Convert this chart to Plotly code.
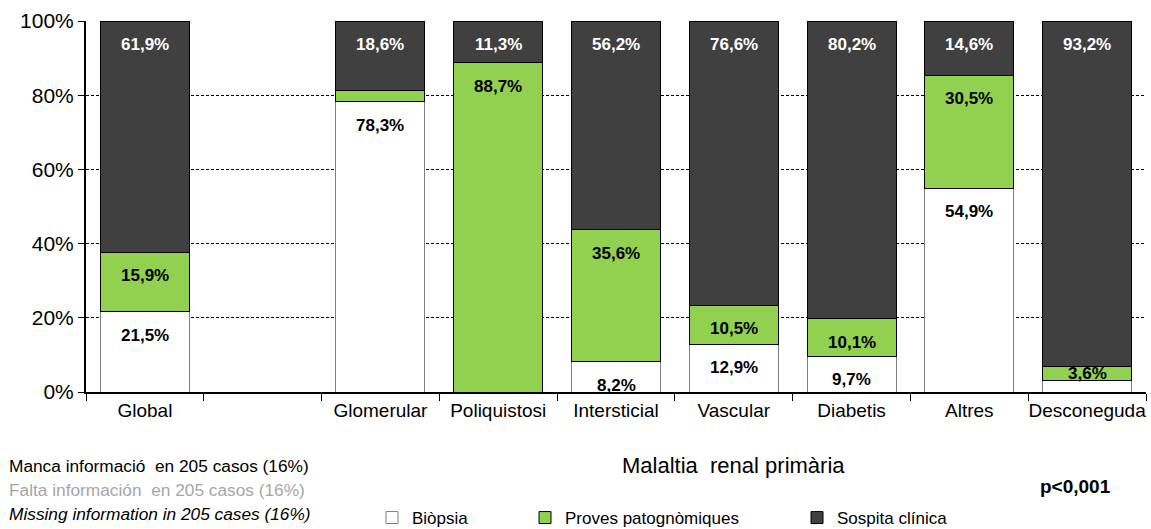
import plotly.graph_objects as go

categories = ["Global", " ", "Glomerular", "Poliquistosi", "Intersticial",
              "Vascular", "Diabetis", "Altres", "Desconeguda"]
biopsia = [21.5, None, 78.3, 0.0, 8.2, 12.9, 9.7, 54.9, 3.2]
proves = [15.9, None, 3.1, 88.7, 35.6, 10.5, 10.1, 30.5, 3.6]
sospita = [61.9, None, 18.6, 11.3, 56.2, 76.6, 80.2, 14.6, 93.2]
y_ticks = [0, 20, 40, 60, 80, 100]

FONT = "Liberation Sans, Arial, sans-serif"
WHITE, GREEN, DARK = "#ffffff", "#92d050", "#404040"

# plot area in pixels (used to place the notes below the axis)
L, R, T, B = 86, 5, 21, 137
W, H = 1151, 529
PW, PH = W - L - R, H - T - B


def px_x(px):
    return (px - L) / PW


def px_y(py):
    return (H - B - py) / PH


fig = go.Figure()
series = [
    ("Biòpsia", biopsia, WHITE, "#7f7f7f", "legend"),
    ("Proves patognòmiques", proves, GREEN, "#000000", "legend2"),
    ("Sospita clínica", sospita, DARK, "#000000", "legend3"),
]
for name, vals, color, edge, leg in series:
    fig.add_trace(go.Bar(
        x=categories, y=vals, name=name, legend=leg, showlegend=True,
        marker=dict(color=color, line=dict(color=edge, width=1)),
        hoverinfo="skip",
    ))

# value labels, positioned at the top of each (normalised) segment
annotations = []
for i, cat in enumerate(categories):
    parts = [biopsia[i], proves[i], sospita[i]]
    if parts[0] is None:
        continue
    total = sum(parts)
    base = 0.0
    for j, v in enumerate(parts):
        h = v / total * 100
        if v >= 3.5:
            txt = "<b>" + f"{v:.1f}%".replace(".", ",") + "</b>"
            col = "white" if j == 2 else "black"
            if h < 5:
                annotations.append(dict(x=cat, y=base + h / 2, text=txt, showarrow=False,
                                        yanchor="middle", font=dict(size=17, color=col, family=FONT)))
            else:
                annotations.append(dict(x=cat, y=base + h, text=txt, showarrow=False,
                                        yanchor="top", yshift=-12,
                                        font=dict(size=17, color=col, family=FONT)))
        base += h

notes = [
    ("Manca informació  en 205 casos (16%)", 466, "black"),
    ("Falta información  en 205 casos (16%)", 490, "#a6a6a6"),
    ("<i>Missing information in 205 cases (16%)</i>", 514, "black"),
]
for txt, py, col in notes:
    annotations.append(dict(x=px_x(7), y=px_y(py), xref="paper", yref="paper", text=txt,
                            showarrow=False, xanchor="left", yanchor="middle",
                            font=dict(size=17.3, color=col, family=FONT)))
annotations.append(dict(x=px_x(733), y=px_y(465), xref="paper", yref="paper",
                        text="Malaltia  renal primària", showarrow=False,
                        xanchor="center", yanchor="middle",
                        font=dict(size=22, color="black", family=FONT)))
annotations.append(dict(x=px_x(1075), y=px_y(486), xref="paper", yref="paper",
                        text="<b>p<0,001</b>", showarrow=False,
                        xanchor="center", yanchor="middle",
                        font=dict(size=19, color="black", family=FONT)))

leg_common = dict(orientation="h", xref="container", yref="container", yanchor="top",
                  y=1 - 500 / H, font=dict(size=17, color="black", family=FONT),
                  bgcolor="rgba(0,0,0,0)", itemwidth=30)

fig.update_layout(
    width=W, height=H,
    margin=dict(l=L, r=R, t=T, b=B, autoexpand=False),
    paper_bgcolor="white", plot_bgcolor="white",
    barmode="stack", barnorm="percent", bargap=0.245,
    font=dict(family=FONT, color="black"),
    xaxis=dict(type="category", tickson="boundaries", ticks="outside", ticklen=7,
               tickcolor="black", showline=True, linecolor="black", linewidth=2,
               showgrid=False, tickangle=0, automargin=False,
               tickfont=dict(size=19, color="black")),
    yaxis=dict(range=[0, 100], tickvals=y_ticks, ticktext=[f"{v}%" for v in y_ticks],
               ticks="outside", automargin=False,
               ticklen=6, tickcolor="black", showline=True, linecolor="black", linewidth=2,
               showgrid=True, gridcolor="black", gridwidth=1, griddash="3px,2px",
               zeroline=False, tickfont=dict(size=21, color="black")),
    legend=dict(x=(414 - 42) / W, **leg_common),
    legend2=dict(x=(567 - 42) / W, **leg_common),
    legend3=dict(x=(839 - 42) / W, **leg_common),
    annotations=annotations,
)

fig.write_html("out.html", config={"displayModeBar": False},
               post_script="document.body.style.margin='0';")
